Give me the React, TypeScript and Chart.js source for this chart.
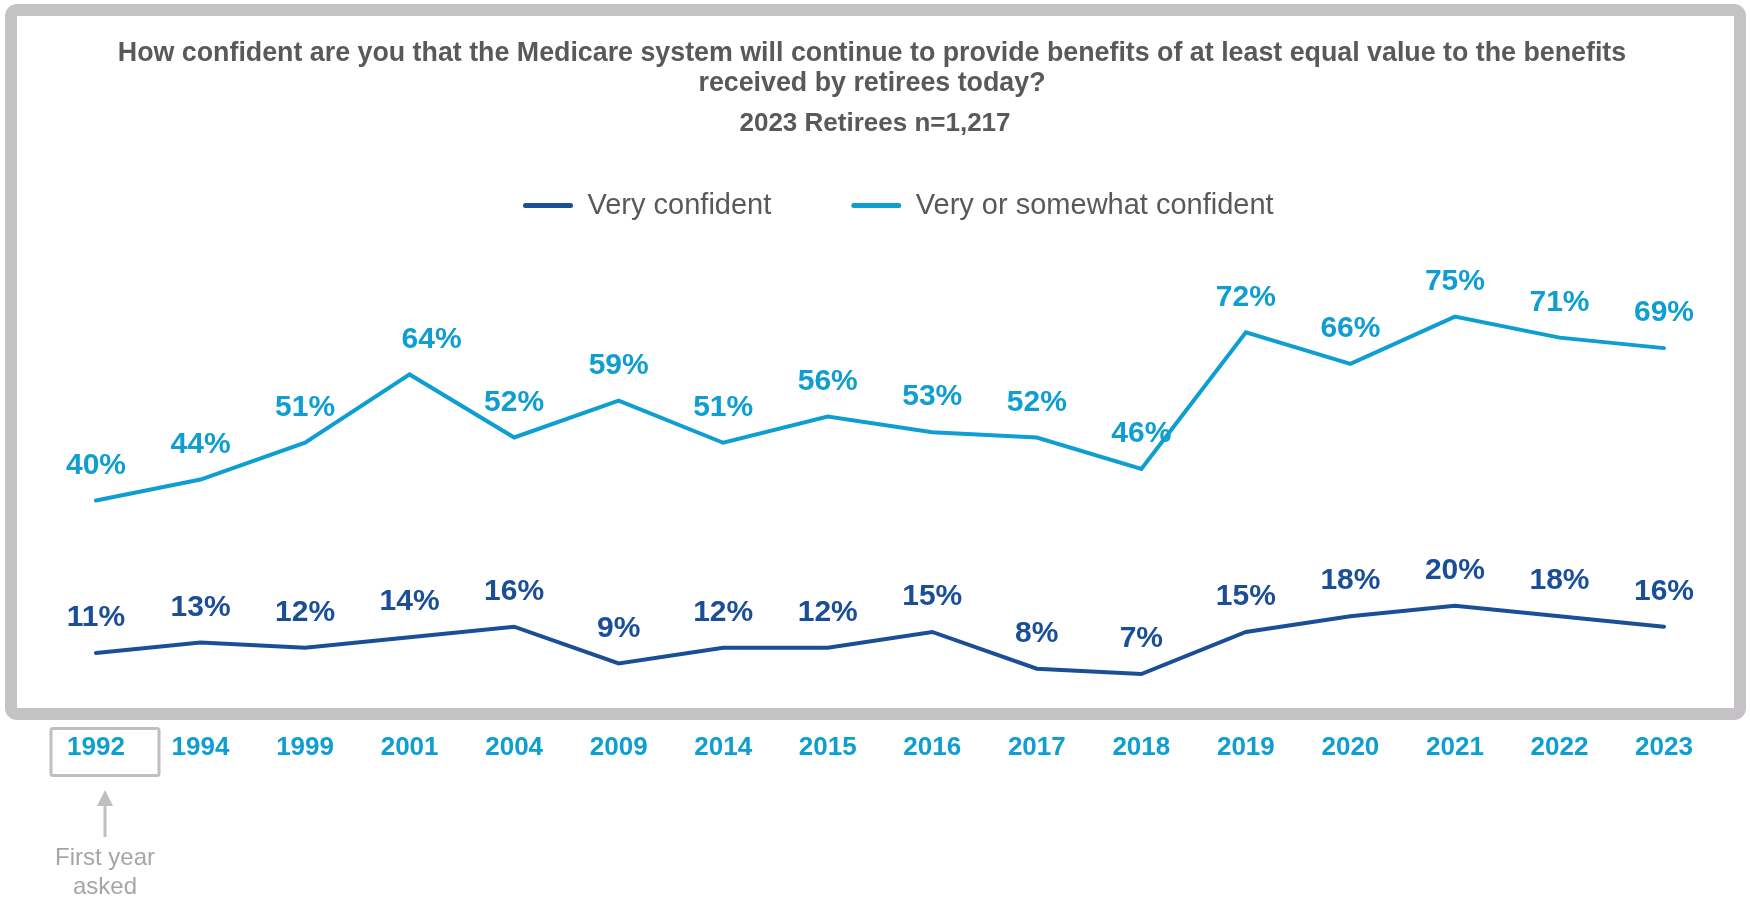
import React, { useEffect, useRef } from "react";
import { Chart, registerables } from "chart.js";

Chart.register(...registerables);

// ---------- data ----------
const years = ["1992", "1994", "1999", "2001", "2004", "2009", "2014", "2015", "2016", "2017", "2018", "2019", "2020", "2021", "2022", "2023"];
const veryConfident = [11, 13, 12, 14, 16, 9, 12, 12, 15, 8, 7, 15, 18, 20, 18, 16];
const veryOrSomewhatConfident = [40, 44, 51, 64, 52, 59, 51, 56, 53, 52, 46, 72, 66, 75, 71, 69];
const seriesNames = ["Very confident", "Very or somewhat confident"];
const titleLines = [
  "How confident are you that the Medicare system will continue to provide benefits of at least equal value to the benefits",
  "received by retirees today?",
];
const subtitleText = "2023 Retirees n=1,217";
const noteLines = ["First year", "asked"];

// ---------- styles ----------
const DARK = "#1a4f98";
const LIGHT = "#0e9ed1";
const GRAY_TEXT = "#595959";
const FRAME = "#c4c2c5";
const NOTE_GRAY = "#bfbfbf";
const NOTE_TEXT = "#a6a6a6";
const FONT = "'Liberation Sans', Arial, sans-serif";
// horizontal nudges for individual value labels (datasetIndex:pointIndex -> px)
const LABEL_NUDGE: Record<string, number> = { "1:3": 22 };

const framePlugin = {
  id: "frame",
  beforeDraw(chart: any) {
    const ctx = chart.ctx;
    ctx.save();
    ctx.fillStyle = "#ffffff";
    ctx.fillRect(0, 0, chart.width, chart.height);
    ctx.strokeStyle = FRAME;
    ctx.lineWidth = 12;
    ctx.beginPath();
    (ctx as any).roundRect(11, 10, 1729, 704, 6);
    ctx.stroke();
    ctx.restore();
  },
};

const shiftPlugin = {
  id: "shiftBoxes",
  afterUpdate(chart: any) {
    for (const box of chart.boxes) {
      if (box === chart.legend) {
        const pad = box.options.labels.padding;
        const w = box.right - box.left;
        const h = box.bottom - box.top;
        box.left = 523 - pad;
        box.right = box.left + w;
        box.top = 111;
        box.bottom = box.top + h;
      } else if (box === chart.titleBlock) {
        box.left -= 8;
        box.right -= 8;
      } else if (box.options && box.options.text === subtitleText) {
        box.left -= 5;
        box.right -= 5;
      }
    }
  },
};

const valueLabelPlugin = {
  id: "valueLabels",
  afterDatasetsDraw(chart: any) {
    const ctx = chart.ctx;
    ctx.save();
    ctx.font = `bold 30px ${FONT}`;
    ctx.textAlign = "center";
    ctx.textBaseline = "middle";
    chart.data.datasets.forEach((ds: any, di: number) => {
      const meta = chart.getDatasetMeta(di);
      ctx.fillStyle = ds.borderColor;
      meta.data.forEach((pt: any, i: number) => {
        const dx = LABEL_NUDGE[`${di}:${i}`] || 0;
        ctx.fillText(`${ds.data[i]}%`, pt.x + dx, pt.y - 35);
      });
    });
    ctx.restore();
  },
};

const notePlugin = {
  id: "firstYearNote",
  afterDraw(chart: any) {
    const ctx = chart.ctx;
    const x0 = chart.scales.x.getPixelForValue(0);
    const cx = x0 + 9;
    ctx.save();
    ctx.strokeStyle = NOTE_GRAY;
    ctx.lineWidth = 3;
    ctx.beginPath();
    (ctx as any).roundRect(cx - 54, 728.5, 108, 47, 2);
    ctx.stroke();
    // arrow
    ctx.beginPath();
    ctx.moveTo(cx, 804);
    ctx.lineTo(cx, 837);
    ctx.stroke();
    ctx.fillStyle = NOTE_GRAY;
    ctx.beginPath();
    ctx.moveTo(cx, 790);
    ctx.lineTo(cx - 8, 806);
    ctx.lineTo(cx + 8, 806);
    ctx.closePath();
    ctx.fill();
    // text
    ctx.fillStyle = NOTE_TEXT;
    ctx.font = `24px ${FONT}`;
    ctx.textAlign = "center";
    ctx.textBaseline = "middle";
    ctx.fillText(noteLines[0], cx, 858);
    ctx.fillText(noteLines[1], cx, 887);
    ctx.restore();
  },
};

export default function App() {
  const canvasRef = useRef<HTMLCanvasElement | null>(null);

  useEffect(() => {
    if (!canvasRef.current) return;
    const chart = new Chart(canvasRef.current, {
      type: "line",
      data: {
        labels: years,
        datasets: [
          {
            label: seriesNames[0],
            data: veryConfident,
            borderColor: DARK,
            backgroundColor: DARK,
            borderWidth: 4,
            pointRadius: 0,
            tension: 0,
            borderCapStyle: "round",
          },
          {
            label: seriesNames[1],
            data: veryOrSomewhatConfident,
            borderColor: LIGHT,
            backgroundColor: LIGHT,
            borderWidth: 4,
            pointRadius: 0,
            tension: 0,
            borderCapStyle: "round",
          },
        ],
      },
      options: {
        animation: false,
        responsive: false,
        devicePixelRatio: 1,
        layout: { padding: { top: 0, left: 96, right: 86, bottom: 115 } },
        scales: {
          x: {
            grid: { display: false, drawTicks: false },
            border: { display: false },
            ticks: {
              color: LIGHT,
              font: { family: FONT, size: 26, weight: "bold" },
              padding: 21,
              autoSkip: false,
              maxRotation: 0,
            },
          },
          y: {
            display: false,
            min: 0,
            max: 83.6,
          },
        },
        plugins: {
          tooltip: { enabled: false },
          title: {
            display: true,
            text: titleLines,
            color: GRAY_TEXT,
            font: { family: FONT, size: 26.8, weight: "bold", lineHeight: 1.11 },
            padding: { top: 39, bottom: 4 },
          },
          subtitle: {
            display: true,
            text: subtitleText,
            color: GRAY_TEXT,
            font: { family: FONT, size: 26, weight: "bold", lineHeight: 1.15 },
            padding: { top: 6, bottom: 14 },
          },
          legend: {
            display: true,
            align: "start",
            labels: {
              color: GRAY_TEXT,
              font: { family: FONT, size: 29 },
              boxWidth: 50,
              boxHeight: 5,
              useBorderRadius: true,
              borderRadius: 2.5,
              padding: 80,
              generateLabels: (ch: any) => {
                const items = (Chart.defaults.plugins.legend.labels as any).generateLabels(ch);
                return items.map((it: any) => ({ ...it, fillStyle: it.strokeStyle, lineWidth: 0 }));
              },
            },
          },
        },
      } as any,
      plugins: [framePlugin, shiftPlugin, valueLabelPlugin, notePlugin],
    });
    return () => chart.destroy();
  }, []);

  return (
    <div style={{ position: "absolute", left: 0, top: 0, width: 1750, height: 899, background: "#fff" }}>
      <canvas ref={canvasRef} width={1750} height={899} style={{ width: 1750, height: 899, display: "block" }} />
    </div>
  );
}
